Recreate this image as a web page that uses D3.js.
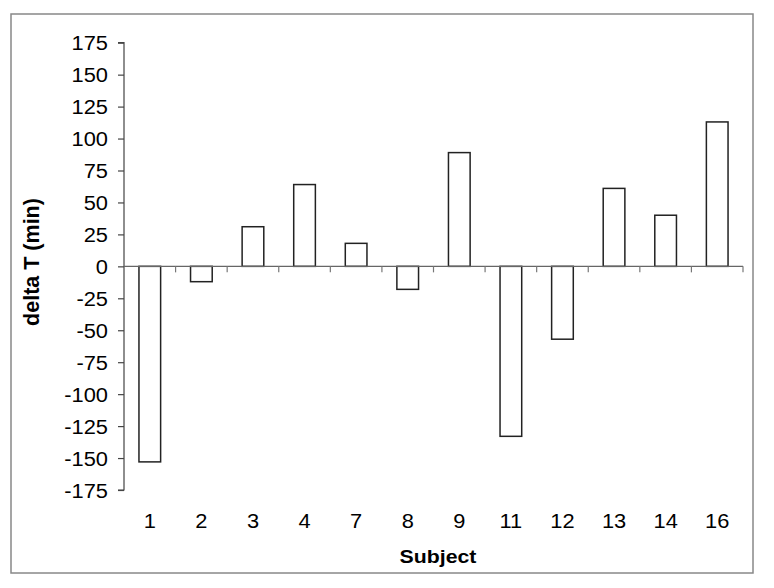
<!DOCTYPE html>
<html>
<head>
<meta charset="utf-8">
<script src="https://cdn.jsdelivr.net/npm/d3@7"></script>
<style>
  body { margin: 0; background: #fff; }
  text { font-family: "Liberation Sans", Arial, sans-serif; fill: #000; }
</style>
</head>
<body>
<div id="chart"></div>
<script>
var subjects = ["1", "2", "3", "4", "7", "8", "9", "11", "12", "13", "14", "16"];
var deltaT = [-153, -12, 31, 64, 18, -18, 89, -133, -57, 61, 40, 113];
var yTicks = [-175, -150, -125, -100, -75, -50, -25, 0, 25, 50, 75, 100, 125, 150, 175];

var W = 774, H = 588;
var stretch = 1.12; // text in the picture is a little wider than tall

var svg = d3.select("#chart").append("svg").attr("width", W).attr("height", H);

// outer frame
svg.append("rect").attr("x", 11).attr("y", 14).attr("width", 742).attr("height", 559)
    .attr("fill", "#fff").attr("stroke", "#888").attr("stroke-width", 1.5);

var x = d3.scaleBand().domain(subjects).range([124, 743]).paddingInner(0.58).paddingOuter(0.29);
var y = d3.scaleLinear().domain([-175, 175]).range([490, 42.7]);

// bars
svg.selectAll("rect.bar").data(deltaT).enter().append("rect")
    .attr("class", "bar")
    .attr("x", function(d, i) { return x(subjects[i]); })
    .attr("width", x.bandwidth())
    .attr("y", function(d) { return y(Math.max(0, d)); })
    .attr("height", function(d) { return Math.abs(y(d) - y(0)); })
    .attr("fill", "#fff").attr("stroke", "#222").attr("stroke-width", 1.5);

// y axis (plain hyphen for negatives, as in the picture)
var yAxis = svg.append("g").attr("transform", "translate(124,0)")
    .call(d3.axisLeft(y).tickValues(yTicks).tickSize(6).tickPadding(8.3).tickFormat(function(d) { return String(d); }));
yAxis.select(".domain").attr("stroke", "#444").attr("stroke-width", 1.2).attr("d", "M-6," + y(175) + "H0V" + y(-175) + "H-6");
yAxis.selectAll(".tick line").attr("stroke", "#444").attr("stroke-width", 1.2);
yAxis.selectAll(".tick text").style("font-size", "19.5px").attr("dy", "0.36em")
    .attr("transform", "scale(" + stretch + ",1)");

// x axis line at zero with ticks between categories
var step = x.step();
var bounds = subjects.map(function(s) { return x(s) - x.paddingOuter() * step + step; });
svg.append("line").attr("x1", 124).attr("x2", 743).attr("y1", y(0)).attr("y2", y(0))
    .attr("stroke", "#666").attr("stroke-width", 1.2);
svg.selectAll("line.xt").data(bounds).enter().append("line").attr("class", "xt")
    .attr("x1", function(d) { return d; }).attr("x2", function(d) { return d; })
    .attr("y1", y(0)).attr("y2", y(0) + 6)
    .attr("stroke", "#777").attr("stroke-width", 1.2);

// category labels
svg.selectAll("g.xl").data(subjects).enter().append("g").attr("class", "xl")
    .attr("transform", function(d) { return "translate(" + (x(d) + x.bandwidth() / 2) + ",528)"; })
    .append("text").attr("text-anchor", "middle").style("font-size", "19.5px")
    .attr("transform", "scale(" + stretch + ",1)")
    .text(function(d) { return d; });

// axis titles
svg.append("g").attr("transform", "translate(438,563)")
    .append("text").attr("text-anchor", "middle")
    .style("font-size", "19px").style("font-weight", "bold")
    .attr("transform", "scale(" + stretch + ",1)")
    .text("Subject");

svg.append("text").attr("transform", "translate(39,262) rotate(-90)")
    .attr("text-anchor", "middle").style("font-size", "21.5px").style("font-weight", "bold")
    .text("delta T (min)");
</script>
</body>
</html>
